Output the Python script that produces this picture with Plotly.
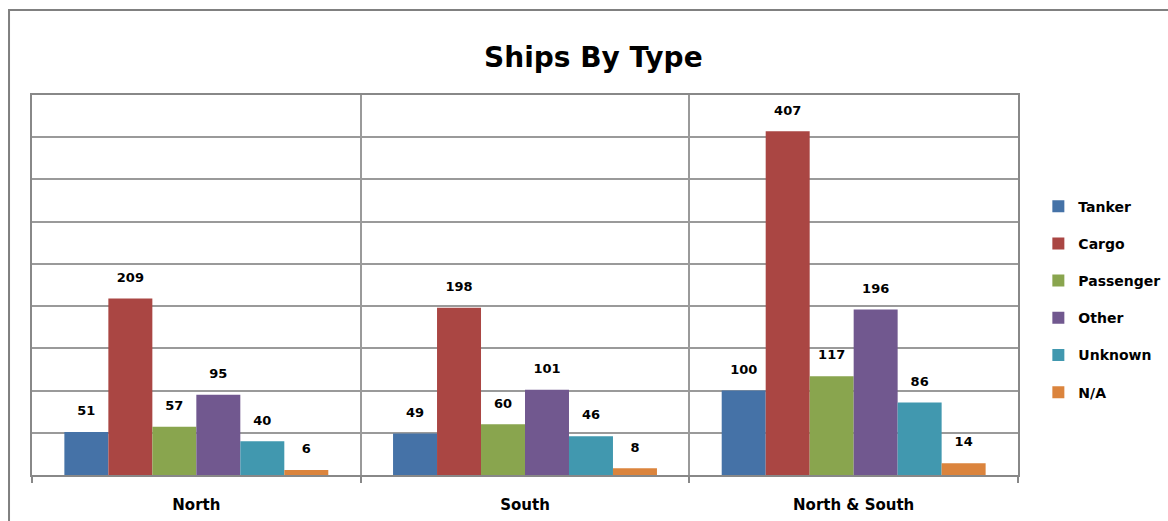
import plotly.graph_objects as go

# Ship counts per region, split by type
regions = ["North", "South", "North & South"]
ship_types = ["Tanker", "Cargo", "Passenger", "Other", "Unknown", "N/A"]
tanker = [51, 49, 100]
cargo = [209, 198, 407]
passenger = [57, 60, 117]
other = [95, 101, 196]
unknown = [40, 46, 86]
na = [6, 8, 14]

series = [tanker, cargo, passenger, other, unknown, na]
colors = ["#4572A7", "#AA4643", "#89A54E", "#71588F", "#4198AF", "#DB843D"]

FONT = "DejaVu Sans"

fig = go.Figure()
for name, vals, col in zip(ship_types, series, colors):
    fig.add_trace(go.Bar(
        name=f"<b>{name}</b>",
        x=regions,
        y=vals,
        marker=dict(color=col, line=dict(width=0)),
        # a short blank second line lifts the value label clear of the bar top
        text=[f"<span style='font-size:13px'><b>{v}</b></span><br> " for v in vals],
        textposition="outside",
        textfont=dict(family=FONT, size=9, color="#000000"),
        cliponaxis=False,
        legendgroup=name,
    ))

fig.update_layout(
    width=1168,
    height=521,
    margin=dict(l=32, r=150, t=95, b=46),
    paper_bgcolor="white",
    plot_bgcolor="white",
    barmode="group",
    bargap=0.197,
    bargroupgap=0,
    title=dict(
        text="<b>Ships By Type</b>",
        x=0.508, xanchor="center",
        y=0.89, yanchor="middle",
        font=dict(family=FONT, size=28, color="#000000"),
    ),
    legend=dict(
        xref="container", yref="container",
        x=0.889, xanchor="left",
        y=0.425, yanchor="middle",
        font=dict(family=FONT, size=14, color="#000000"),
        tracegroupgap=16,
        itemwidth=30,
        bgcolor="rgba(0,0,0,0)",
    ),
    font=dict(family=FONT, color="#000000"),
    showlegend=True,
)

fig.update_xaxes(
    type="category",
    automargin=False,
    tickson="boundaries",
    showgrid=True,
    gridcolor="#9a9a9a",
    gridwidth=1.5,
    ticks="outside",
    ticklen=6,
    tickcolor="#888888",
    tickwidth=1.5,
    showline=True,
    linecolor="#888888",
    linewidth=2,
    mirror=True,
    tickfont=dict(family=FONT, size=15, color="#000000"),
    ticklabelstandoff=15,
    tickprefix="<b>", ticksuffix="</b>",
)

fig.update_yaxes(
    range=[0, 450],
    dtick=50,
    automargin=False,
    showgrid=True,
    gridcolor="#9a9a9a",
    gridwidth=1.5,
    showticklabels=False,
    zeroline=False,
    showline=True,
    linecolor="#888888",
    linewidth=2,
    mirror=True,
)

# Outer chart frame
fig.add_shape(
    type="rect", xref="paper", yref="paper",
    x0=-0.0233, x1=1.2, y0=-0.2, y1=1.2237,
    line=dict(color="#808080", width=2),
    fillcolor="rgba(0,0,0,0)",
    layer="below",
)

fig.write_html("out.html")
